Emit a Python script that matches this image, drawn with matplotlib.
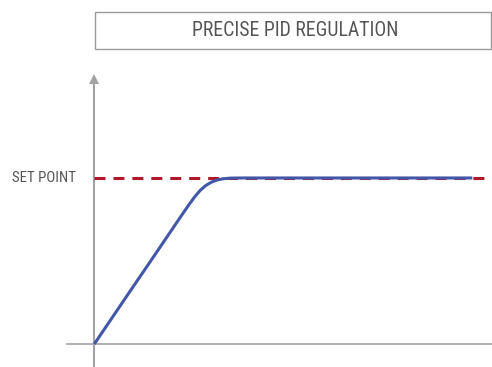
import matplotlib

matplotlib.use("Agg")
import matplotlib.pyplot as plt
from matplotlib.patches import Rectangle

TITLE = "PRECISE PID REGULATION"
SET_LABEL = "SET POINT"
SET_POINT = 1.0

# step response (time, normalised output)
time = [0.0, 0.5, 1.0, 1.5, 2.0, 2.3, 2.5, 2.65, 2.8, 2.95, 3.1, 3.25, 3.4, 3.6, 3.9, 4.5, 6.0, 8.0, 10.0]
response = [0.0, 0.168, 0.336, 0.503, 0.671, 0.772, 0.838, 0.885, 0.925, 0.955, 0.975, 0.988, 0.995, 0.999, 1.0, 1.0, 1.0, 1.0, 1.0]

FONT = ["Roboto Condensed", "DejaVu Sans"]
GREY = "#a3a3a3"
TEXT = "#555555"

fig = plt.figure(figsize=(4.92, 3.67), dpi=100)
ax = fig.add_axes([0, 0, 1, 1])
ax.set_xlim(-2.495, 10.52)
ax.set_ylim(-0.1386, 2.072)
ax.axis("off")

# axes drawn by hand: vertical with arrow, horizontal baseline
ax.plot([0, 0], [-0.1386, 1.57], color=GREY, lw=1.5, solid_capstyle="butt", zorder=1)
ax.plot([0], [1.596], marker="^", ms=7.5, color=GREY, mew=0, zorder=1)
ax.plot([-0.72, 10.52], [0, 0], color=GREY, lw=1.2, zorder=1)

ax.plot([0, 10.52], [SET_POINT, SET_POINT], color="#b2182b", lw=2.2,
        dashes=(3.6, 2.6), zorder=2)
ax.plot(time, response, color="#4257a8", lw=2.2, solid_capstyle="butt", zorder=3)

ax.text(-0.484, SET_POINT, SET_LABEL, ha="right", va="center",
        fontsize=10.7, color=TEXT, family=FONT)

fig.patches.append(Rectangle((94.5 / 492, 318.5 / 367), 396.5 / 492, 36.5 / 367,
                             transform=fig.transFigure, fill=False,
                             edgecolor="#9a9a9a", lw=1.0))
fig.text(295 / 492, 336 / 367, TITLE, ha="center", va="center",
         fontsize=14.2, color=TEXT, family=FONT)

fig.savefig("out.png", dpi=100)
